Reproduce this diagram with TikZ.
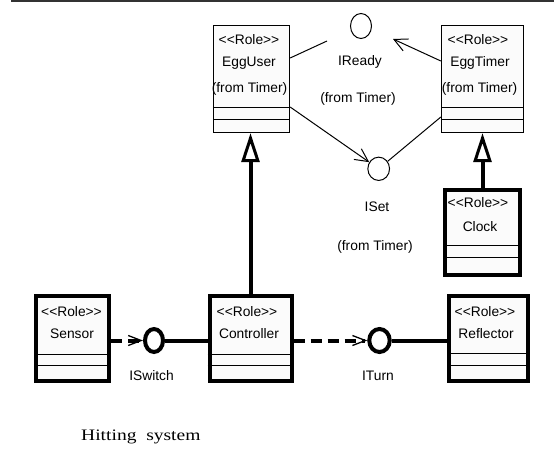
\documentclass[tikz,border=0pt]{standalone}
\usepackage{fontspec}
\setmainfont{Liberation Serif}
\newfontfamily\umlfont[Ligatures=TeXOff]{Liberation Sans}
\usetikzlibrary{arrows.meta,shapes.geometric}
\definecolor{boxfill}{RGB}{251,251,251}
\definecolor{rulegray}{RGB}{50,50,50}

\tikzset{
  box/.style={draw=black, fill=boxfill, rectangle, inner sep=0pt},
  thinbox/.style={box, line width=1.3pt},
  thickbox/.style={box, line width=4pt},
  iface/.style={draw=black, fill=white, ellipse, inner sep=0pt},
  thiniface/.style={iface, line width=1pt},
  thickiface/.style={iface, line width=4pt},
  lbl/.style={font=\umlfont\fontsize{13.8}{16}\selectfont, inner sep=0pt, anchor=center},
  compart/.style={line width=1pt},
  thinline/.style={line width=1pt},
  thickline/.style={line width=4pt},
  thickdash/.style={line width=4pt, dash pattern=on 11pt off 6pt},
  barb/.style={-{Straight Barb[length=13pt, width=13pt, line width=1pt]}},
  smallbarb/.style={-{Straight Barb[length=13pt, width=10pt, line width=1.3pt]}},
  gen/.style={line width=4pt, -{Triangle[open, length=29pt, width=18pt, line width=3pt]}},
}

\begin{document}
\begin{tikzpicture}[x=1pt, y=-1pt]
\useasboundingbox (0,0) rectangle (554,450);

% page rule
\draw[rulegray, line width=2pt] (11,1) -- (554,1);

% role boxes (from Timer)
\node[thinbox, minimum width=76pt, minimum height=107pt] (egguser) at (251.5,79) {};
\node[thinbox, minimum width=82pt, minimum height=107pt] (eggtimer) at (482.5,79) {};
% role boxes of the hitting system
\node[thickbox, minimum width=75pt, minimum height=85pt] (clock) at (482.5,232.5) {};
\node[thickbox, minimum width=73pt, minimum height=85pt] (sensor) at (72.5,338.5) {};
\node[thickbox, minimum width=82pt, minimum height=85pt] (controller) at (250.5,338.5) {};
\node[thickbox, minimum width=79pt, minimum height=85pt] (reflector) at (488.5,338.5) {};

% compartments
\foreach \b/\ya/\yb in {egguser/107/119, eggtimer/107/119, clock/245/257,
                        sensor/354/365, controller/354/365, reflector/353/365}
  \draw[compart] (\b.west |- 0,\ya) -- (\b.east |- 0,\ya)
                 (\b.west |- 0,\yb) -- (\b.east |- 0,\yb);

% box texts
\node[lbl] (eu1) at (249,40) {<<Role>>};
\node[lbl] (eu2) at (249,63) {EggUser};
\node[lbl] (eu3) at (249.5,89) {(from Timer)};
\node[lbl] (et1) at (478,40) {<<Role>>};
\node[lbl] (et2) at (480,63) {EggTimer};
\node[lbl] (et3) at (479.5,89) {(from Timer)};
\node[lbl] (cl1) at (478,203) {<<Role>>};
\node[lbl] (cl2) at (480,227) {Clock};
\node[lbl] (se1) at (71.5,312) {<<Role>>};
\node[lbl] (se2) at (72,334) {Sensor};
\node[lbl] (co1) at (247,312) {<<Role>>};
\node[lbl] (co2) at (249,334) {Controller};
\node[lbl] (re1) at (485,312) {<<Role>>};
\node[lbl] (re2) at (486,334) {Reflector};

% interfaces
\node[thiniface, minimum width=21pt, minimum height=25pt] (iready) at (361,26) {};
\node[thiniface, minimum width=21.7pt, minimum height=23.3pt] (iset) at (378.7,168.8) {};
\node[thickiface, minimum width=18pt, minimum height=23pt] (iswitch) at (154,340.5) {};
\node[thickiface, minimum width=20.5pt, minimum height=23pt] (iturn) at (379.5,340.5) {};

\node[lbl] (ireadyname) at (360,62) {IReady};
\node[lbl] (ireadyfrom) at (358,99) {(from Timer)};
\node[lbl] (isetname) at (377,207) {ISet};
\node[lbl] (isetfrom) at (375,247) {(from Timer)};
\node[lbl] (iswitchname) at (151.5,376) {ISwitch};
\node[lbl] (iturnname) at (378,376) {ITurn};

% free ends near IReady
\coordinate (readyuse) at (327,41);
\coordinate (readytip) at (393,39);

% Timer connectors
\draw[thinline] (egguser.east |- 0,58) -- (readyuse);
\draw[thinline, barb] (eggtimer.west |- 0,61) -- (readytip);
\draw[thinline, barb] (egguser.east |- 0,107) -- (iset);
\draw[thinline] (eggtimer.west |- 0,117) -- (iset);

% generalizations
\draw[gen] (controller.north) -- (controller.north |- egguser.south);
\draw[gen] (clock.north) -- (clock.north |- eggtimer.south);

% hitting system connectors
\draw[thickdash, smallbarb] (sensor.east |- iswitch.west) -- (iswitch.west);
\draw[thickline] (iswitch.east) -- (iswitch.east -| controller.west);
\draw[thickdash, smallbarb] (controller.east |- iturn.west) -- (iturn.west);
\draw[thickline] (iturn.east) -- (iturn.east -| reflector.west);

% caption
\node[anchor=west, inner sep=0pt, font=\fontsize{16}{19}\selectfont] (caption) at (81,437)
  {\scalebox{1.22}[1]{Hitting\ \ system}};
\end{tikzpicture}
\end{document}
